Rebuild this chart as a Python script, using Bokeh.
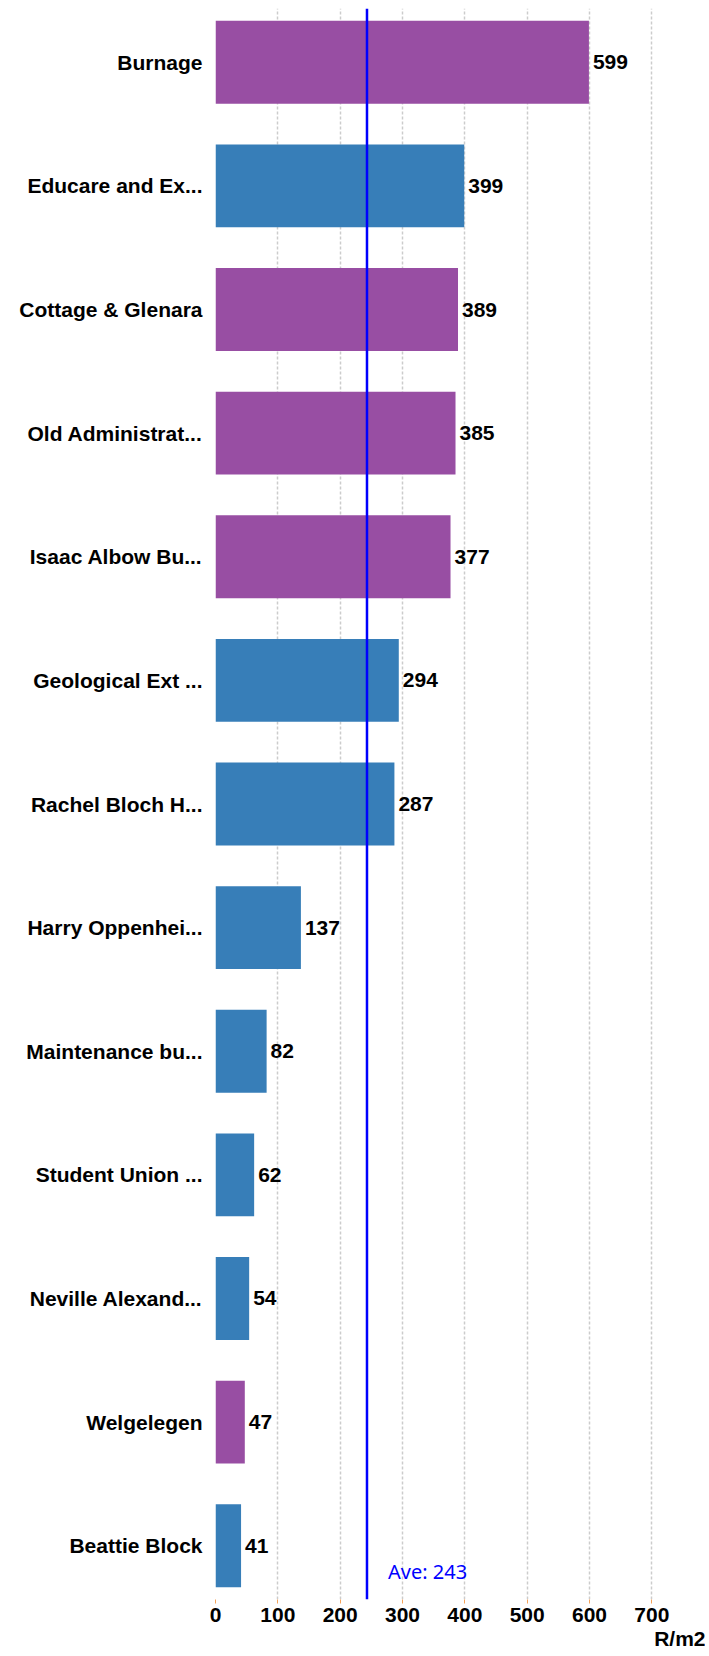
from bokeh.plotting import figure
from bokeh.models import ColumnDataSource, Span, Label, Title, FactorRange, Range1d
from bokeh.core.properties import value
from bokeh.embed import file_html
from bokeh.resources import INLINE

# ---- data (top to bottom) ----
names = [
    "Burnage", "Educare and Ex...", "Cottage & Glenara", "Old Administrat...",
    "Isaac Albow Bu...", "Geological Ext ...", "Rachel Bloch H...", "Harry Oppenhei...",
    "Maintenance bu...", "Student Union ...", "Neville Alexand...", "Welgelegen",
    "Beattie Block",
]
values = [599, 399, 389, 385, 377, 294, 287, 137, 82, 62, 54, 47, 41]
groups = ["p", "b", "p", "p", "p", "b", "b", "b", "b", "b", "b", "p", "b"]
average = 243
x_ticks = [0, 100, 200, 300, 400, 500, 600, 700]
unit_label = "R/m2"

PURPLE = "#984ea3"
BLUE = "#377eb8"
colors = [PURPLE if g == "p" else BLUE for g in groups]
labels = [str(v) for v in values]

src = ColumnDataSource(dict(name=names, val=values, color=colors, lab=labels))

FONT = "Liberation Sans"

p = figure(
    frame_width=490, frame_height=1591,
    y_range=FactorRange(*list(reversed(names)), range_padding=-0.065,
                        range_padding_units="absolute"),
    x_range=Range1d(0, 786),
    output_backend="svg", toolbar_location=None,
    min_border_left=215, min_border_right=0, min_border_top=8, min_border_bottom=0,
)
p.outline_line_color = None
p.background_fill_color = "white"

p.hbar(y="name", right="val", left=0, height=0.67, color="color", line_color=None, source=src)

p.text(x="val", y="name", text="lab", source=src, x_offset=4,
       text_font=value(FONT), text_font_style="bold", text_font_size="21px",
       text_color="black", text_baseline="middle", text_align="left")

avg = Span(location=average, dimension="height", line_color="#0000ff", line_width=2.5)
p.add_layout(avg)
p.add_layout(Label(x=average, y=28, y_units="screen", x_offset=21,
                   text=f"Ave: {average}", text_color="#0000ff",
                   text_font="Noto Sans", text_font_size="20px",
                   text_baseline="middle"))

# axes
p.xaxis.ticker = x_ticks
p.xaxis.axis_line_color = None
p.xaxis.major_tick_line_color = "#f5a35a"
p.xaxis.major_tick_out = 4
p.xaxis.major_tick_in = 0
p.xaxis.minor_tick_line_color = None
p.xaxis.major_label_text_font = FONT
p.xaxis.major_label_text_font_style = "bold"
p.xaxis.major_label_text_font_size = "21px"
p.xaxis.major_label_text_color = "black"
p.xaxis.major_label_standoff = 4

p.yaxis.axis_line_color = None
p.yaxis.major_tick_line_color = None
p.yaxis.major_tick_out = 0
p.yaxis.major_tick_in = 0
p.yaxis.minor_tick_line_color = None
p.yaxis.major_label_text_font = FONT
p.yaxis.major_label_text_font_style = "bold"
p.yaxis.major_label_text_font_size = "21px"
p.yaxis.major_label_text_color = "black"
p.yaxis.major_label_standoff = 13

p.ygrid.grid_line_color = None
p.xgrid.grid_line_color = "#cccccc"
p.xgrid.grid_line_dash = "3 2"
p.xgrid.grid_line_width = 1.5

p.add_layout(Title(text=unit_label, align="right", text_font=FONT,
                   text_font_style="bold", text_font_size="21px",
                   text_color="black", standoff=0), "below")

open("out.html", "w").write(file_html(p, INLINE))
